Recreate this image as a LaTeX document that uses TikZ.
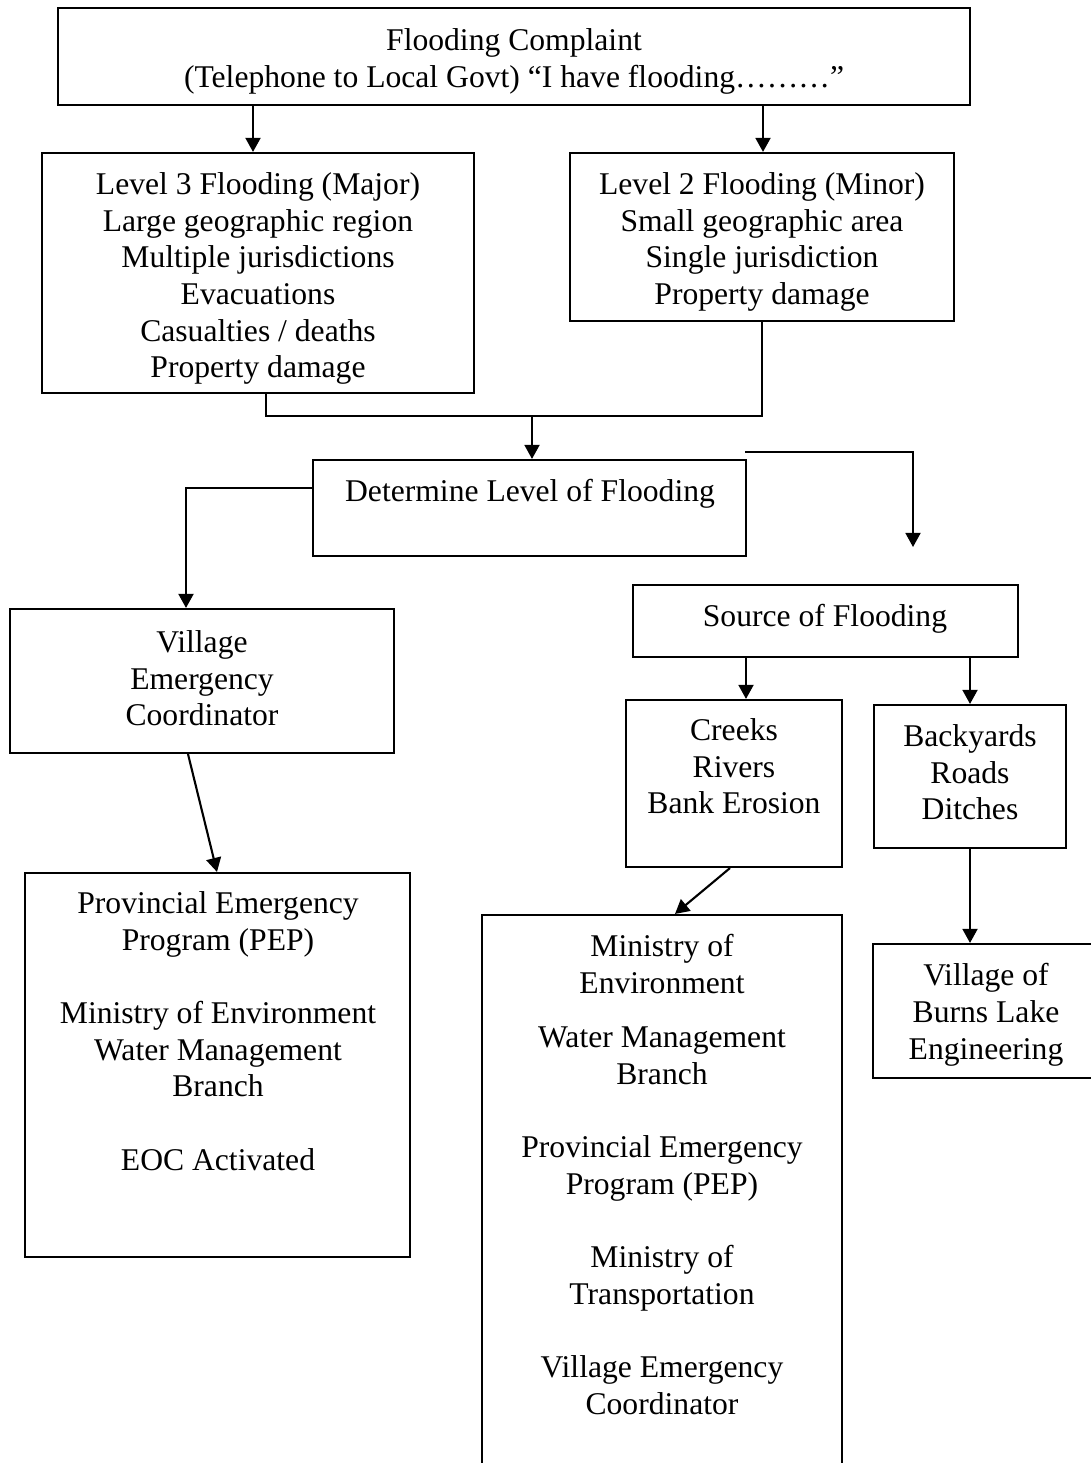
\documentclass[tikz,border=0pt]{standalone}
\usepackage{fontspec}
\setmainfont{Liberation Serif}
\usetikzlibrary{arrows.meta,fit}

\begin{document}
\begin{tikzpicture}[x=0.02cm, y=-0.02cm]

    \tikzset{boxstyle/.style={draw, line width=1.2pt, inner sep=0pt},
             txtstyle/.style={align=center, inner sep=0pt, anchor=north,
                              font=\fontsize{18pt}{20.9pt}\selectfont},
             arw/.style={line width=1.2pt, -{Triangle[length=8pt,width=8.5pt]}}}

    \useasboundingbox (0,0) rectangle (1091,1463);
    \clip (0,0) rectangle (1091,1463);

    % Boxes
    \node[boxstyle, fit={(58,8) (970,105)}] (complaint) {};
    \node[boxstyle, fit={(42,153) (474,393)}] (level3) {};
    \node[boxstyle, fit={(570,153) (954,321)}] (level2) {};
    \node[boxstyle, fit={(313,460) (746,556)}] (determine) {};
    \node[boxstyle, fit={(10,609) (394,753)}] (vec) {};
    \node[boxstyle, fit={(25,873) (410,1257)}] (pep) {};
    \node[boxstyle, fit={(633,585) (1018,657)}] (source) {};
    \node[boxstyle, fit={(626,700) (842,867)}] (creeks) {};
    \node[boxstyle, fit={(874,705) (1066,848)}] (backyards) {};
    \node[boxstyle, fit={(482,915) (842,1490)}] (ministry) {};
    \node[boxstyle, fit={(873,944) (1120,1078)}] (burns) {};

    % Texts
    \node[txtstyle] (complaintT) at (514, 28) {Flooding Complaint\\(Telephone to Local Govt) “I have flooding………”};
    \node[txtstyle] (level3T) at (258, 172) {Level 3 Flooding (Major)\\Large geographic region\\Multiple jurisdictions\\Evacuations\\Casualties / deaths\\Property damage};
    \node[txtstyle] (level2T) at (762, 172) {Level 2 Flooding (Minor)\\Small geographic area\\Single jurisdiction\\Property damage};
    \node[txtstyle] (determineT) at (530, 479) {Determine Level of Flooding};
    \node[txtstyle] (vecT) at (202, 630) {Village\\Emergency\\Coordinator};
    \node[txtstyle] (pepT) at (218, 891) {Provincial Emergency\\Program (PEP)\\[20.9pt]Ministry of Environment\\Water Management\\Branch\\[20.9pt]EOC Activated};
    \node[txtstyle] (sourceT) at (825, 604) {Source of Flooding};
    \node[txtstyle] (creeksT) at (734, 718) {Creeks\\Rivers\\Bank Erosion};
    \node[txtstyle] (backyardsT) at (970, 724) {Backyards\\Roads\\Ditches};
    \node[txtstyle] (ministryT) at (662, 934) {Ministry of\\Environment\\[9.8pt]Water Management\\Branch\\[20.9pt]Provincial Emergency\\Program (PEP)\\[20.9pt]Ministry of\\Transportation\\[20.9pt]Village Emergency\\Coordinator};
    \node[txtstyle] (burnsT) at (986, 963) {Village of\\Burns Lake\\Engineering};

    % Connector points
    \coordinate (c1) at (253,0);
    \coordinate (c2) at (763,0);
    \coordinate (j1) at (266,0);
    \coordinate (join) at (532,416);
    \coordinate (d1) at (313,488);
    \coordinate (d2) at (186,0);
    \coordinate (r1) at (745,452);
    \coordinate (r2) at (913,547);
    \coordinate (v1) at (188,0);
    \coordinate (v2) at (217,0);
    \coordinate (s1) at (746,0);
    \coordinate (k1) at (730,0);
    \coordinate (k2) at (675,0);

    \begin{scope}[every path/.style={arw}]
        \draw (c1 |- complaint.south) -- (c1 |- level3.north);
        \draw (c2 |- complaint.south) -- (c2 |- level2.north);
        \draw[-] (j1 |- level3.south) |- (join) -| (level2.south);
        \draw (join) -- (join |- determine.north);
        \draw (d1) -| (d2 |- vec.north);
        \draw (r1) -| (r2);
        \draw (v1 |- vec.south) -- (v2 |- pep.north);
        \draw (s1 |- source.south) -- (s1 |- creeks.north);
        \draw (backyards.north |- source.south) -- (backyards.north);
        \draw (k1 |- creeks.south) -- (k2 |- ministry.north);
        \draw (backyards.south) -- (backyards.south |- burns.north);
    \end{scope}

\end{tikzpicture}
\end{document}
